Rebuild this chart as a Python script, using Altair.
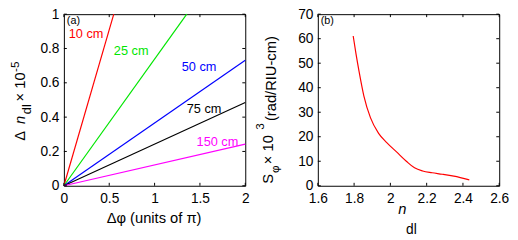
import altair as alt
import pandas as pd

FONT = "Liberation Sans"

# ---------------- Panel (a) data ----------------
lengths = ["10 cm", "25 cm", "50 cm", "75 cm", "150 cm"]
colors = ["#ff0000", "#00e600", "#0000ff", "#000000", "#ff00ff"]
dphi_end = [0.55, 1.355, 2.0, 2.0, 2.0]
dn_end = [1.0, 1.0, 0.732, 0.485, 0.243]
label_x = [0.054, 0.551, 1.30, 1.355, 1.463]
label_y = [0.864, 0.761, 0.668, 0.424, 0.234]

a_x_ticks = [0, 0.5, 1, 1.5, 2]
a_y_ticks = [0, 0.2, 0.4, 0.6, 0.8, 1]

# ---------------- Panel (b) data ----------------
n_dl = [1.795, 1.81, 1.827, 1.854, 1.89, 1.935, 1.98, 2.034, 2.088, 2.133,
        2.178, 2.23, 2.286, 2.35, 2.435]
S_phi = [61.1, 54.0, 46.8, 36.6, 27.8, 21.4, 17.6, 13.8, 10.0, 7.3,
         6.0, 5.3, 4.7, 3.9, 2.4]

b_x_ticks = [1.6, 1.8, 2.0, 2.2, 2.4, 2.6]
b_y_ticks = [0, 10, 20, 30, 40, 50, 60, 70]

W, H = 185, 175
TL = 3  # inward tick length

rows = []
for name, xe, ye in zip(lengths, dphi_end, dn_end):
    rows.append({"L": name, "x": 0.0, "y": 0.0})
    rows.append({"L": name, "x": xe, "y": ye})
a_lines = pd.DataFrame(rows)
a_labels = pd.DataFrame({"L": lengths, "x": label_x, "y": label_y})
b_curve = pd.DataFrame({"n": n_dl, "S": S_phi})

cscale = alt.Scale(domain=lengths, range=colors)


def make_enc(xdom, ydom, xt, yt, xfmt, yfmt):
    xs = alt.Scale(domain=xdom, nice=False, zero=False)
    ys = alt.Scale(domain=ydom, nice=False, zero=False)
    xax = alt.Axis(values=xt, format=xfmt, title=None, labelFlush=False,
                   labelPadding=6, labelOverlap=False, labelBound=False)
    yax = alt.Axis(values=yt, format=yfmt, title=None, labelPadding=5,
                   labelOverlap=False, labelBound=False, labelFlush=False)
    return xs, ys, xax, yax


def tick_layers(xfield, yfield, xt, yt, xs, ys, xax, yax):
    xdf = pd.DataFrame({xfield: xt})
    ydf = pd.DataFrame({yfield: yt})
    X = alt.X(f"{xfield}:Q", scale=xs, axis=xax)
    Y = alt.Y(f"{yfield}:Q", scale=ys, axis=yax)
    r = dict(color="black", strokeWidth=1)
    return [
        alt.Chart(xdf).mark_rule(**r).encode(x=X, y=alt.value(H - TL), y2=alt.value(H)),
        alt.Chart(xdf).mark_rule(**r).encode(x=X, y=alt.value(0), y2=alt.value(TL)),
        alt.Chart(ydf).mark_rule(**r).encode(y=Y, x=alt.value(0), x2=alt.value(TL)),
        alt.Chart(ydf).mark_rule(**r).encode(y=Y, x=alt.value(W - TL), x2=alt.value(W)),
    ]


def txt(text, x, y, size=15, angle=0, italic=False, align="left", color="black"):
    kw = dict(text=text, font=FONT, fontSize=size, align=align,
              baseline="alphabetic", color=color)
    if angle:
        kw["angle"] = angle
    if italic:
        kw["fontStyle"] = "italic"
    return alt.Chart(pd.DataFrame({"d": [0]})).mark_text(**kw).encode(
        x=alt.value(x), y=alt.value(y))


# ---------- left panel ----------
axs, ays, axax, ayax = make_enc([0, 2], [0, 1], a_x_ticks, a_y_ticks, ".1~f", ".1~f")
a_line = alt.Chart(a_lines).mark_line(strokeWidth=1.2).encode(
    x=alt.X("x:Q", scale=axs, axis=axax), y=alt.Y("y:Q", scale=ays, axis=ayax),
    color=alt.Color("L:N", scale=cscale, legend=None), detail="L:N")
a_text = alt.Chart(a_labels).mark_text(font=FONT, fontSize=13, align="left",
                                       baseline="alphabetic").encode(
    x=alt.X("x:Q", scale=axs, axis=axax), y=alt.Y("y:Q", scale=ays, axis=ayax),
    text="L:N", color=alt.Color("L:N", scale=cscale, legend=None))
a_ticks = tick_layers("x", "y", a_x_ticks, a_y_ticks, axs, ays, axax, ayax)
a_extra = [
    txt("(a)", 3, 10, size=11),
    txt("Δφ  (units of π)", 92, 213, size=15, align="center"),
    txt("Δ", -40, 129, angle=270),
    txt("n", -40, 112, angle=270, italic=True),
    txt("dl", -34, 102, size=13, angle=270),
    txt("× 10", -40, 89, angle=270),
    txt("-5", -46, 59, size=12, angle=270),
]
left = alt.layer(a_line, a_text, *a_ticks, *a_extra).properties(width=W, height=H)

# ---------- right panel ----------
bxs, bys, bxax, byax = make_enc([1.6, 2.6], [0, 70], b_x_ticks, b_y_ticks, ".1~f", ".0f")
b_line = alt.Chart(b_curve).mark_line(color="#ff0000", strokeWidth=1.2,
                                      interpolate="monotone").encode(
    x=alt.X("n:Q", scale=bxs, axis=bxax), y=alt.Y("S:Q", scale=bys, axis=byax))
b_ticks = tick_layers("n", "S", b_x_ticks, b_y_ticks, bxs, bys, bxax, byax)
b_extra = [
    txt("(b)", 3, 10, size=11),
    txt("n", 82, 204, italic=True),
    txt("dl", 90, 224, size=14),
    txt("S", -46, 173, angle=270),
    txt("φ", -40, 162, size=12, angle=270),
    txt("× 10", -46, 153, angle=270),
    txt("3", -55, 118, size=12, angle=270),
    txt("(rad/RIU-cm)", -43, 109, angle=270),
]
right = alt.layer(b_line, *b_ticks, *b_extra).properties(width=W, height=H)

chart = alt.hconcat(left, right, spacing=74, bounds="flush").properties(
    padding={"left": 0, "top": -4, "right": 0, "bottom": -1}
).configure_view(stroke="black", strokeWidth=1).configure_axis(
    labelFont=FONT, labelFontSize=14, labelColor="black", ticks=False,
    domain=False, grid=False)

chart.save("out.html", embed_options={"renderer": "svg", "actions": False})
